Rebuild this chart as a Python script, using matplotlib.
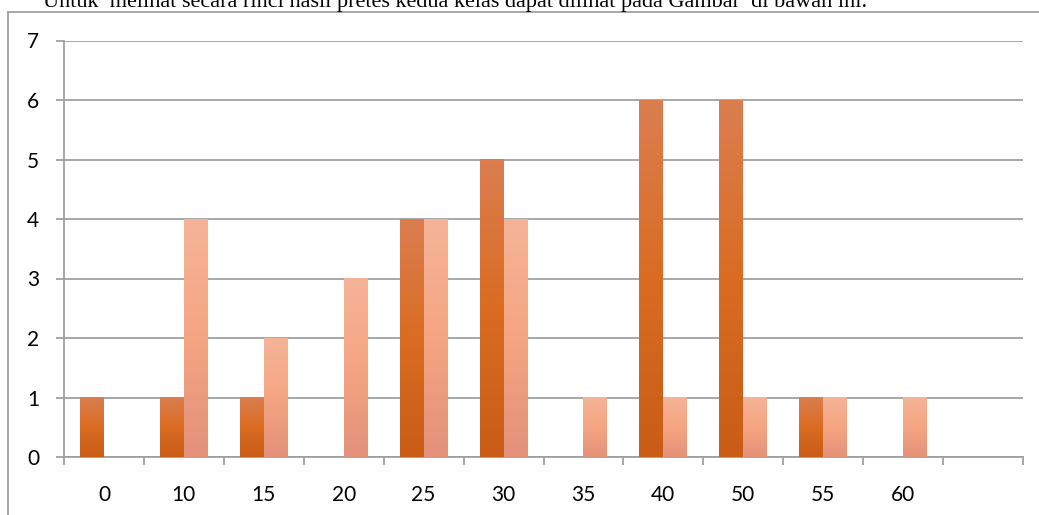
import numpy as np
import matplotlib.pyplot as plt
from matplotlib.colors import LinearSegmentedColormap
from matplotlib.lines import Line2D

# datos del grafico (frecuencia de nilai pretes)
categorias = ['0', '10', '15', '20', '25', '30', '35', '40', '50', '55', '60', '']
kelas_1 = [1, 1, 1, 0, 4, 5, 0, 6, 6, 1, 0, 0]
kelas_2 = [0, 4, 2, 3, 4, 4, 1, 1, 1, 1, 1, 0]
y_ticks = [0, 1, 2, 3, 4, 5, 6, 7]

# degradados de las barras (abajo -> medio -> arriba)
cmap_1 = LinearSegmentedColormap.from_list('k1', ['#C95D17', '#DA6C22', '#DA7E50'])
cmap_2 = LinearSegmentedColormap.from_list('k2', ['#E3917A', '#F5A582', '#F5B497'])

fig = plt.figure(figsize=(10.39, 5.15), dpi=100)
ax = fig.add_axes([64/1039, (515-457)/515, (1023-64)/1039, (457-40.5)/515])

x = np.arange(len(categorias))
w = 0.3
grad = np.linspace(0, 1, 256).reshape(-1, 1)


def barras_degradado(xs, vals, cmap):
    bars = ax.bar(xs, vals, w, color='none', zorder=3)
    for b in bars:
        h = b.get_height()
        if h <= 0:
            continue
        x0 = b.get_x()
        ax.imshow(grad, extent=[x0, x0 + w, 0, h], origin='lower', cmap=cmap,
                  aspect='auto', zorder=3, interpolation='bilinear')


barras_degradado(x - w/2, kelas_1, cmap_1)
barras_degradado(x + w/2, kelas_2, cmap_2)

ax.set_xlim(-0.5, len(categorias) - 0.5)
ax.set_ylim(0, 7)
ax.set_yticks(y_ticks)
ax.set_xticks(np.arange(len(categorias) + 1) - 0.5, minor=False)
ax.set_xticklabels([])
ax.set_xticks(x, minor=True)
ax.set_xticklabels(categorias, minor=True)

gris = '#A0A0A0'
ax.grid(True, axis='y', color=gris, linewidth=1.3, zorder=0)
ax.set_axisbelow(True)
for s in ['top', 'right']:
    ax.spines[s].set_visible(False)
ax.spines['left'].set_color(gris)
ax.spines['bottom'].set_color(gris)
ax.spines['left'].set_linewidth(1.3)
ax.spines['bottom'].set_linewidth(1.3)
ax.tick_params(axis='y', length=6, width=1.3, color=gris, pad=12, labelsize=15)
ax.tick_params(axis='x', which='major', length=6, width=1.3, color=gris)
ax.tick_params(axis='x', which='minor', length=0, pad=20, labelsize=15)
for t in ax.get_yticklabels() + ax.get_xticklabels(minor=True):
    t.set_fontfamily('Lato')

# marco exterior y texto cortado arriba
fig.add_artist(Line2D([8/1039, 1], [1 - 12/515, 1 - 12/515], color=gris, lw=1.3))
fig.add_artist(Line2D([8/1039, 8/1039], [0, 1 - 12/515], color=gris, lw=1.3))
fig.text(43/1039, 1 - 7/515,
         'Untuk  melihat secara rinci hasil pretes kedua kelas dapat dilihat pada Gambar  di bawah ini.',
         fontsize=16, family='Liberation Serif', va='baseline', ha='left')

fig.savefig('out.png', dpi=100)
